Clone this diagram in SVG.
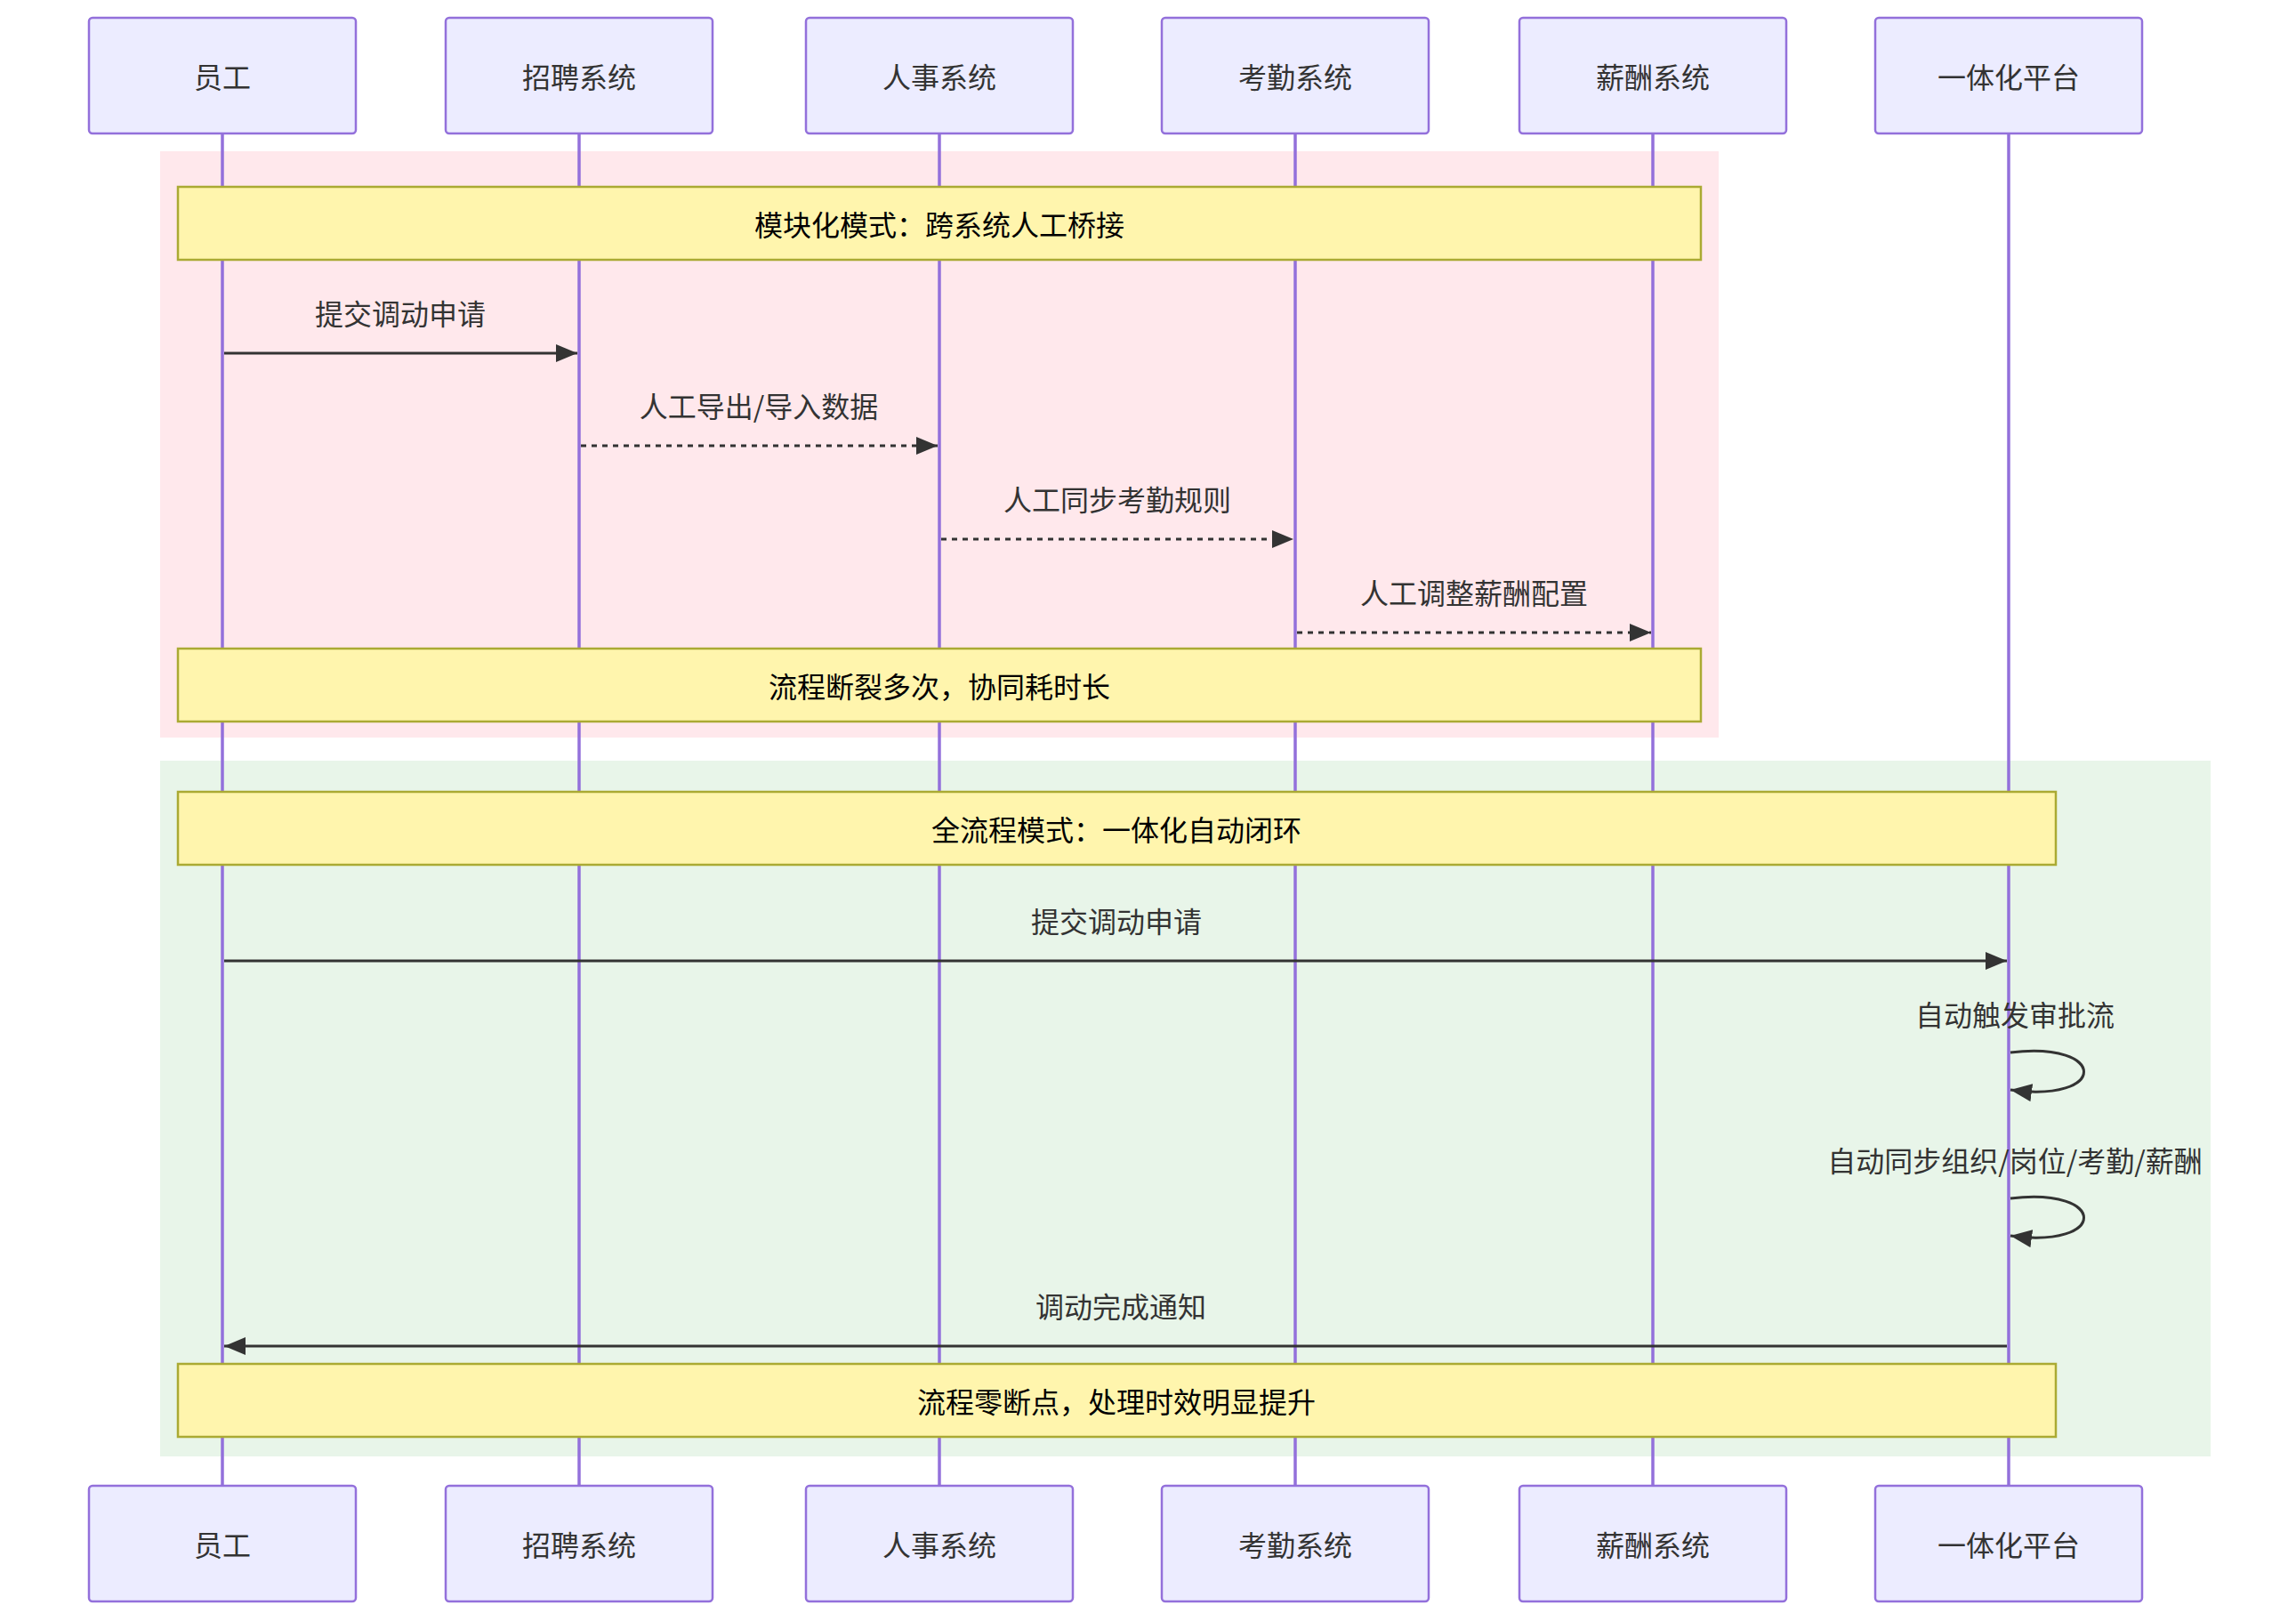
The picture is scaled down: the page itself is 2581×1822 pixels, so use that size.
<svg xmlns="http://www.w3.org/2000/svg" width="2581" height="1822" viewBox="0 0 2581 1822">
<style>
.actor{fill:#ECECFF;stroke:#9370DB;stroke-width:2.5}
.life{stroke:#9370DB;stroke-width:3.5}
.note{fill:#FFF5AD;stroke:#AAAA33;stroke-width:2.5}
.t{font-family:"Noto Sans CJK SC","Liberation Sans",sans-serif;font-size:32px;fill:#333;text-anchor:middle;dominant-baseline:central}
.nt{font-family:"Noto Sans CJK SC","Liberation Sans",sans-serif;font-size:32px;fill:#000;text-anchor:middle;dominant-baseline:central}
.msg{stroke:#333;stroke-width:3;fill:none}
.dash{stroke-dasharray:6,6}
</style>
<defs>
<marker id="ah" viewBox="0 0 12 10" refX="12" refY="5" markerWidth="12" markerHeight="10" markerUnits="userSpaceOnUse" orient="auto">
<path d="M0,0 L12,5 L0,10 z" fill="#333"/>
</marker>
<marker id="ab" viewBox="0 0 12 10" refX="12" refY="5" markerWidth="24" markerHeight="20" markerUnits="userSpaceOnUse" orient="auto">
<path d="M0,0 L12,5 L0,10 z" fill="#333"/>
</marker>
</defs>
<rect x="0" y="0" width="2581" height="1822" fill="#fff"/>
<rect x="180" y="170" width="1752" height="659" fill="#FFE8EC"/>
<rect x="180" y="855" width="2305" height="782" fill="#E8F5E9"/>
<g id="lifelines">
<line class="life" x1="250" y1="150" x2="250" y2="1670"/>
<line class="life" x1="651" y1="150" x2="651" y2="1670"/>
<line class="life" x1="1056" y1="150" x2="1056" y2="1670"/>
<line class="life" x1="1456" y1="150" x2="1456" y2="1670"/>
<line class="life" x1="1858" y1="150" x2="1858" y2="1670"/>
<line class="life" x1="2258" y1="150" x2="2258" y2="1670"/>
</g>
<g id="actors-top">
<g id="a1"><rect class="actor" x="100" y="20" width="300" height="130" rx="4"/><text class="t" x="250" y="85">员工</text></g>
<g id="a2"><rect class="actor" x="501" y="20" width="300" height="130" rx="4"/><text class="t" x="651" y="85">招聘系统</text></g>
<g id="a3"><rect class="actor" x="906" y="20" width="300" height="130" rx="4"/><text class="t" x="1056" y="85">人事系统</text></g>
<g id="a4"><rect class="actor" x="1306" y="20" width="300" height="130" rx="4"/><text class="t" x="1456" y="85">考勤系统</text></g>
<g id="a5"><rect class="actor" x="1708" y="20" width="300" height="130" rx="4"/><text class="t" x="1858" y="85">薪酬系统</text></g>
<g id="a6"><rect class="actor" x="2108" y="20" width="300" height="130" rx="4"/><text class="t" x="2258" y="85">一体化平台</text></g>
</g>
<g id="actors-bottom">
<g id="b1"><rect class="actor" x="100" y="1670" width="300" height="130" rx="4"/><text class="t" x="250" y="1735">员工</text></g>
<g id="b2"><rect class="actor" x="501" y="1670" width="300" height="130" rx="4"/><text class="t" x="651" y="1735">招聘系统</text></g>
<g id="b3"><rect class="actor" x="906" y="1670" width="300" height="130" rx="4"/><text class="t" x="1056" y="1735">人事系统</text></g>
<g id="b4"><rect class="actor" x="1306" y="1670" width="300" height="130" rx="4"/><text class="t" x="1456" y="1735">考勤系统</text></g>
<g id="b5"><rect class="actor" x="1708" y="1670" width="300" height="130" rx="4"/><text class="t" x="1858" y="1735">薪酬系统</text></g>
<g id="b6"><rect class="actor" x="2108" y="1670" width="300" height="130" rx="4"/><text class="t" x="2258" y="1735">一体化平台</text></g>
</g>
<g id="notes">
<g id="n1"><rect class="note" x="200" y="210" width="1712" height="82"/><text class="nt" x="1056" y="251">模块化模式：跨系统人工桥接</text></g>
<g id="n2"><rect class="note" x="200" y="729" width="1712" height="82"/><text class="nt" x="1056" y="770">流程断裂多次，协同耗时长</text></g>
<g id="n3"><rect class="note" x="200" y="890" width="2111" height="82"/><text class="nt" x="1255" y="931">全流程模式：一体化自动闭环</text></g>
<g id="n4"><rect class="note" x="200" y="1533" width="2111" height="82"/><text class="nt" x="1255" y="1574">流程零断点，处理时效明显提升</text></g>
</g>
<g id="connectors">
<line class="msg" x1="252" y1="397" x2="649" y2="397" marker-end="url(#ab)"/>
<text class="t" x="450" y="351">提交调动申请</text>
<line class="msg dash" x1="653" y1="501" x2="1054" y2="501" marker-end="url(#ab)"/>
<text class="t" x="853" y="455">人工导出/导入数据</text>
<line class="msg dash" x1="1058" y1="606" x2="1454" y2="606" marker-end="url(#ab)"/>
<text class="t" x="1256" y="560">人工同步考勤规则</text>
<line class="msg dash" x1="1458" y1="711" x2="1856" y2="711" marker-end="url(#ab)"/>
<text class="t" x="1657" y="665">人工调整薪酬配置</text>
<line class="msg" x1="252" y1="1080" x2="2256" y2="1080" marker-end="url(#ab)"/>
<text class="t" x="1255" y="1034">提交调动申请</text>
<path class="msg" d="M2260,1183 C2370,1170 2370,1240 2260,1225" marker-end="url(#ab)"/>
<text class="t" x="2265" y="1139">自动触发审批流</text>
<path class="msg" d="M2260,1347 C2370,1334 2370,1404 2260,1389" marker-end="url(#ab)"/>
<text class="t" x="2265" y="1303">自动同步组织/岗位/考勤/薪酬</text>
<line class="msg" x1="2256" y1="1513" x2="252" y2="1513" marker-end="url(#ab)"/>
<text class="t" x="1260" y="1467">调动完成通知</text>
</g>
</svg>
